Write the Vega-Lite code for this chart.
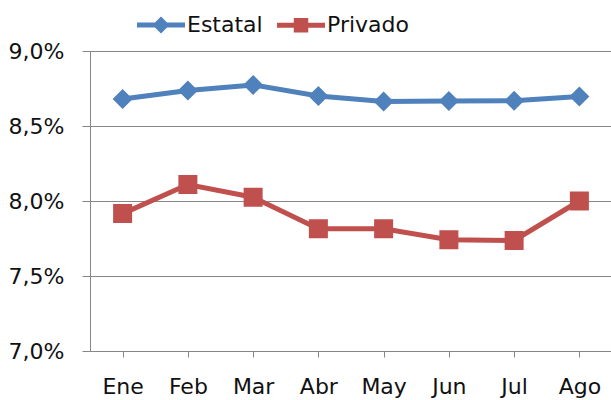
{
  "$schema": "https://vega.github.io/schema/vega-lite/v6.json",
  "width": 522,
  "height": 300,
  "autosize": {"type": "none"},
  "padding": {"left": 90, "top": 51, "right": 0, "bottom": 49},
  "background": "white",
  "config": {
    "view": {"stroke": null},
    "font": "DejaVu Sans"
  },
  "data": {
    "values": [
      {"mes": "Ene", "serie": "Estatal", "valor": 8.68},
      {"mes": "Feb", "serie": "Estatal", "valor": 8.736},
      {"mes": "Mar", "serie": "Estatal", "valor": 8.774},
      {"mes": "Abr", "serie": "Estatal", "valor": 8.70},
      {"mes": "May", "serie": "Estatal", "valor": 8.663},
      {"mes": "Jun", "serie": "Estatal", "valor": 8.667},
      {"mes": "Jul", "serie": "Estatal", "valor": 8.668},
      {"mes": "Ago", "serie": "Estatal", "valor": 8.697},
      {"mes": "Ene", "serie": "Privado", "valor": 7.916},
      {"mes": "Feb", "serie": "Privado", "valor": 8.11},
      {"mes": "Mar", "serie": "Privado", "valor": 8.025},
      {"mes": "Abr", "serie": "Privado", "valor": 7.815},
      {"mes": "May", "serie": "Privado", "valor": 7.815},
      {"mes": "Jun", "serie": "Privado", "valor": 7.742},
      {"mes": "Jul", "serie": "Privado", "valor": 7.737},
      {"mes": "Ago", "serie": "Privado", "valor": 8.0}
    ]
  },
  "encoding": {
    "x": {
      "field": "mes",
      "type": "ordinal",
      "sort": ["Ene", "Feb", "Mar", "Abr", "May", "Jun", "Jul", "Ago"],
      "scale": {"type": "point", "padding": 0.5},
      "axis": {
        "title": null,
        "labelAngle": 0,
        "labelFontSize": 22,
        "labelColor": "#111111",
        "labelPadding": 19,
        "domainColor": "#868686",
        "domainWidth": 1,
        "tickColor": "#868686",
        "tickSize": 6,
        "grid": false
      }
    },
    "y": {
      "field": "valor",
      "type": "quantitative",
      "scale": {"domain": [7, 9], "nice": false, "zero": false},
      "axis": {
        "title": null,
        "values": [7, 7.5, 8, 8.5, 9],
        "labelExpr": "replace(format(datum.value, '.1f'), '.', ',') + '%'",
        "labelFontSize": 22,
        "labelColor": "#111111",
        "labelPadding": 18,
        "domainColor": "#868686",
        "tickColor": "#868686",
        "tickSize": 8,
        "grid": true,
        "gridColor": "#868686",
        "gridOpacity": 1
      }
    }
  },
  "layer": [
    {
      "mark": {"type": "line", "strokeWidth": 5},
      "encoding": {
        "stroke": {
          "field": "serie",
          "type": "nominal",
          "scale": {"domain": ["Estatal", "Privado"], "range": ["#4F81BD", "#C0504D"]}
        }
      }
    },
    {
      "mark": {"type": "point", "filled": true, "opacity": 1, "strokeWidth": 0, "size": 400},
      "encoding": {
        "fill": {
          "field": "serie",
          "type": "nominal",
          "scale": {"domain": ["Estatal", "Privado"], "range": ["#4F81BD", "#C0504D"]}
        },
        "stroke": {
          "field": "serie",
          "type": "nominal"
        },
        "shape": {
          "field": "serie",
          "type": "nominal",
          "scale": {
            "domain": ["Estatal", "Privado"],
            "range": [
              "M0,-1L1,0L0,1L-1,0Z M-4.8,0H4.8",
              "M-0.95,-0.95H0.95V0.95H-0.95Z M-4.8,0H4.8"
            ]
          },
          "legend": {
            "title": null,
            "orient": "none",
            "legendX": 60,
            "legendY": -37,
            "direction": "horizontal",
            "symbolSize": 100,
            "symbolStrokeWidth": 5,
            "symbolOpacity": 1,
            "labelFontSize": 22,
            "labelColor": "#111111",
            "labelOffset": 15,
            "columnPadding": 4
          }
        }
      }
    }
  ]
}
